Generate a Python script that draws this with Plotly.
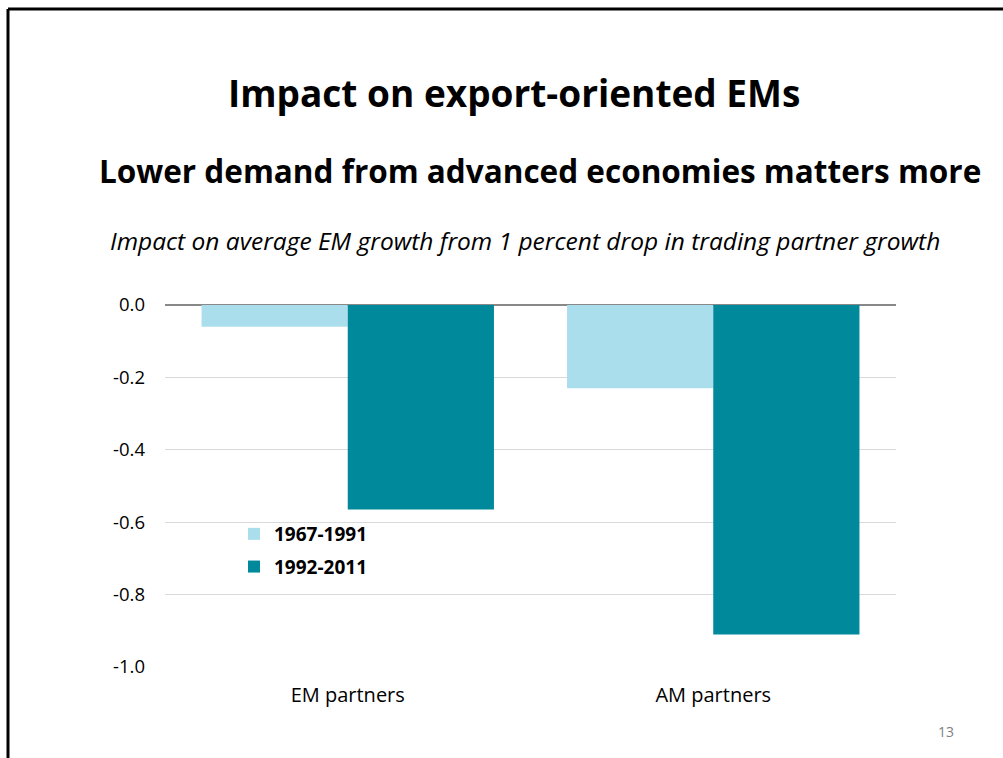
import plotly.graph_objects as go

categories = ["EM partners", "AM partners"]
series_1967_1991 = [-0.06, -0.23]
series_1992_2011 = [-0.565, -0.91]
series_names = ["1967-1991", "1992-2011"]
y_ticks = [0.0, -0.2, -0.4, -0.6, -0.8, -1.0]
y_tick_labels = ["0.0", "-0.2", "-0.4", "-0.6", "-0.8", "-1.0"]

W, H = 1003, 758
L, R, T, B = 165, 896, 305, 667

def px(x):
    return (x - L) / (R - L)

def py(y):
    return (B - y) / (B - T)

FONT = "Open Sans"

fig = go.Figure()
fig.add_trace(go.Bar(x=categories, y=series_1967_1991, name=series_names[0],
                     marker=dict(color="#ABDEEC", line=dict(width=0)), legendgroup="a"))
fig.add_trace(go.Bar(x=categories, y=series_1992_2011, name=series_names[1],
                     marker=dict(color="#00889B", line=dict(width=0)), legendgroup="b"))

fig.update_layout(
    width=W, height=H,
    margin=dict(l=L, r=W - R, t=T, b=H - B, pad=0),
    paper_bgcolor="white", plot_bgcolor="white",
    barmode="group", bargap=0.2, bargroupgap=0,
    font=dict(family=FONT, size=19, color="#000000"),
    showlegend=True,
    legend=dict(x=px(234), y=py(515), xanchor="left", yanchor="top",
                font=dict(family=FONT, size=19, color="#000000", weight="bold"),
                traceorder="grouped", tracegroupgap=5, itemwidth=30,
                bgcolor="rgba(0,0,0,0)"),
    xaxis=dict(showgrid=False, showline=False, ticks="", tickfont=dict(size=20),
               ticklabelstandoff=14),
    yaxis=dict(range=[-1.0, 0.0], tickvals=y_ticks, ticktext=y_tick_labels,
               showgrid=True, gridcolor="#D9D9D9", gridwidth=1,
               zeroline=True, zerolinecolor="#898989", zerolinewidth=2,
               showline=False, ticks="", tickfont=dict(size=18.5),
               ticklabelstandoff=19),
)

annotations = [
    dict(text="<b>Impact on export-oriented EMs</b>", x=px(514), y=py(93),
         font=dict(family=FONT, size=37, color="#000000")),
    dict(text="<b>Lower demand from advanced economies matters more</b>", x=px(540), y=py(170),
         font=dict(family=FONT, size=31.5, color="#000000")),
    dict(text="<i>Impact on average EM growth from 1 percent drop in trading partner growth</i>",
         x=px(525), y=py(240), font=dict(family=FONT, size=24.5, color="#000000")),
    dict(text="13", x=px(946), y=py(731), font=dict(family=FONT, size=14, color="#808080")),
]
for a in annotations:
    fig.add_annotation(xref="paper", yref="paper", showarrow=False,
                       xanchor="center", yanchor="middle", **a)

# slide frame (top and left edges)
fig.add_shape(type="line", xref="paper", yref="paper", x0=px(8), x1=px(1003), y0=py(9), y1=py(9),
              line=dict(color="#000000", width=3))
fig.add_shape(type="line", xref="paper", yref="paper", x0=px(8), x1=px(8), y0=py(9), y1=py(758),
              line=dict(color="#000000", width=3))

fig.write_html("out.html")
